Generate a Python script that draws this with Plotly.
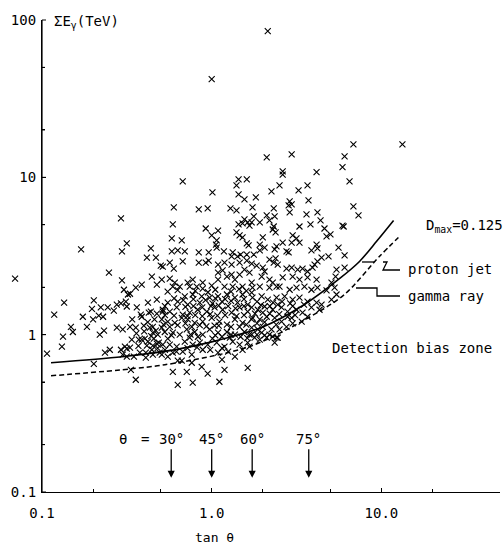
import math
import plotly.graph_objects as go

# (tan theta, sum of gamma-ray energies in TeV) for each recorded family
events = [
    (2.14, 85.1), (1.0, 42.1), (6.84, 16.2), (13.3, 16.2), (6.07, 13.6), (5.90, 11.6),
    (6.49, 9.44), (2.96, 14.0), (2.11, 13.4), (2.62, 10.9), (2.62, 10.4), (4.15, 10.8),
    (1.44, 9.71), (1.61, 9.71), (1.40, 8.89), (0.675, 9.44), (2.51, 8.89), (3.67, 8.89),
    (6.84, 6.53), (7.33, 5.73), (5.99, 4.87), (5.59, 3.58), (6.07, 3.19),
    (5.44, 2.59), (5.37, 2.34), (5.44, 1.80),
    # low-angle side
    (0.292, 5.48), (0.170, 3.48), (0.316, 3.80), (0.296, 3.38), (0.438, 3.53), (0.415, 3.09),
    (0.469, 3.09), (0.501, 2.75), (0.248, 2.48), (0.444, 2.34), (0.296, 2.21), (0.387, 2.08),
    (0.475, 2.08), (0.357, 1.99), (0.304, 1.93), (0.330, 1.82), (0.321, 1.80), (0.475, 1.67),
    (0.202, 1.65), (0.135, 1.60), (0.421, 1.60), (0.292, 1.58), (0.276, 1.55), (0.312, 1.62),
    (0.197, 1.46), (0.222, 1.49), (0.244, 1.49), (0.265, 1.42), (0.316, 1.51), (0.362, 1.49),
    (0.438, 1.40), (0.475, 1.36), (0.515, 1.40), (0.118, 1.34), (0.174, 1.30), (0.216, 1.32),
    (0.229, 1.30), (0.200, 1.25), (0.382, 1.34), (0.387, 1.30), (0.426, 1.38), (0.148, 1.12),
    (0.184, 1.12), (0.276, 1.11), (0.299, 1.08), (0.330, 1.12), (0.357, 1.11), (0.398, 1.14),
    (0.152, 1.04), (0.232, 1.06), (0.219, 1.00), (0.432, 1.11), (0.450, 1.12), (0.469, 1.06),
    (0.450, 1.03), (0.481, 1.00), (0.508, 1.11), (0.133, 0.971), (0.131, 0.839), (0.107, 0.757),
    (0.372, 0.929), (0.387, 0.929), (0.404, 0.943), (0.421, 0.902), (0.456, 0.943), (0.475, 0.877),
    (0.450, 0.851), (0.488, 0.889), (0.415, 0.851), (0.338, 0.929), (0.235, 0.768), (0.251, 0.802),
    (0.292, 0.802), (0.308, 0.839), (0.316, 0.815), (0.330, 0.827), (0.299, 0.746), (0.316, 0.724),
    (0.348, 0.724), (0.377, 0.768), (0.409, 0.768), (0.444, 0.802), (0.409, 0.714), (0.450, 0.746),
    (0.494, 0.768), (0.202, 0.653), (0.334, 0.598), (0.357, 0.517),
    (0.36, 1.02), (0.40, 1.05), (0.42, 1.20), (0.46, 1.25), (0.34, 1.25), (0.44, 0.98),
    (0.37, 0.85), (0.48, 0.82),
    # around 45 degrees, upper part
    (1.01, 8.02), (1.44, 7.80), (1.56, 7.24), (0.598, 6.44), (0.839, 6.25), (0.947, 6.35),
    (1.29, 6.35), (1.40, 6.16), (1.74, 6.44), (0.590, 5.02), (0.922, 4.73), (1.09, 4.59),
    (1.56, 5.40), (1.63, 5.17), (1.52, 5.09), (1.67, 4.94), (1.44, 5.02), (1.40, 4.47),
    (1.46, 4.27), (1.52, 4.15), (1.00, 4.27), (1.07, 3.97), (1.06, 3.74), (1.61, 3.80),
    (1.65, 3.69), (0.582, 4.09), (0.666, 3.97), (1.07, 3.58), (0.582, 3.38), (0.631, 3.43),
    (0.694, 3.38), (0.839, 3.33), (0.960, 3.33), (1.18, 3.38), (1.33, 3.33), (1.48, 3.23),
    (1.31, 3.14), (1.42, 3.14), (1.61, 3.23), (0.515, 2.71), (0.566, 2.87), (0.598, 2.63),
    (0.675, 2.92), (0.839, 2.87), (0.922, 2.87), (0.960, 2.96), (1.09, 2.79), (1.19, 2.87),
    (1.31, 2.79), (1.46, 2.87), (1.61, 2.96), (1.72, 2.83), (0.508, 2.24), (0.566, 2.27),
    (0.606, 2.14), (0.590, 2.02), (0.648, 2.02), (0.722, 2.14), (0.773, 2.24), (0.816, 2.02),
    (0.885, 2.14), (1.00, 2.05), (1.09, 2.48), (1.16, 2.56), (1.23, 2.34), (1.31, 2.41),
    (1.37, 2.24), (1.46, 2.41), (1.56, 2.59), (1.67, 2.48), (1.72, 2.14), (1.52, 2.02),
    (1.33, 2.02), (1.09, 2.24),
    # 60 degrees and beyond, upper part
    (3.25, 8.26), (2.25, 8.15), (1.82, 7.46), (2.88, 7.03), (2.96, 6.73), (2.84, 6.64),
    (3.72, 7.14), (2.32, 6.35), (2.88, 5.98), (3.62, 5.81), (4.20, 5.98), (1.77, 5.65),
    (2.11, 5.73), (2.35, 5.65), (1.72, 5.17), (1.92, 5.17), (2.19, 5.32), (2.32, 4.87),
    (2.38, 4.47), (2.29, 4.66), (3.29, 4.87), (3.82, 5.02), (4.38, 5.32), (4.62, 4.73),
    (5.01, 4.34), (4.75, 4.21), (5.90, 4.94), (3.00, 4.27), (3.16, 4.09), (3.29, 3.85),
    (2.62, 3.85), (2.96, 3.85), (2.00, 4.15), (2.41, 3.64), (2.35, 3.48), (2.76, 3.38),
    (2.84, 3.33), (1.92, 3.74), (2.05, 3.58), (1.92, 3.43), (1.77, 3.23), (4.15, 3.74),
    (4.20, 3.53), (3.87, 3.43), (4.44, 3.09), (4.88, 3.14), (2.19, 3.00), (2.38, 3.05),
    (2.32, 2.87), (2.45, 2.79), (4.04, 2.79), (3.93, 2.67), (4.20, 2.92), (6.07, 2.67),
    (1.84, 2.75), (2.00, 2.67), (2.05, 2.52), (1.97, 2.34), (2.76, 2.63), (2.96, 2.67),
    (3.21, 2.59), (3.43, 2.63), (3.67, 2.52), (2.62, 2.31), (3.00, 2.34), (3.29, 2.24),
    (3.67, 2.31), (4.15, 2.24), (5.08, 2.14), (2.19, 2.24), (2.29, 2.14), (2.41, 2.02),
    # dense core, 30 to 60 degrees
    (0.742, 2.02), (0.885, 1.96), (1.19, 2.02),
    (0.55, 1.88), (0.63, 1.92), (0.80, 1.90), (0.95, 1.86), (1.05, 1.93), (1.30, 1.88),
    (1.45, 1.95), (1.60, 1.90),
    (0.694, 1.75), (0.773, 1.80), (0.873, 1.75), (0.973, 1.72), (1.09, 1.75), (1.23, 1.80),
    (1.37, 1.72), (1.52, 1.80), (1.72, 1.85),
    (0.60, 1.70), (0.68, 1.66), (0.78, 1.68), (0.92, 1.66), (1.05, 1.70), (1.20, 1.68),
    (1.30, 1.64), (1.55, 1.68), (1.85, 1.62), (2.3, 1.60), (2.6, 1.62), (2.9, 1.58),
    (0.551, 1.60), (0.631, 1.62), (0.722, 1.55), (0.850, 1.60), (1.01, 1.58), (1.15, 1.62),
    (1.42, 1.60), (1.63, 1.55),
    (0.53, 1.52), (0.70, 1.50), (0.78, 1.52), (0.88, 1.49), (0.99, 1.52), (1.10, 1.53),
    (1.25, 1.52), (1.38, 1.47), (1.55, 1.52), (1.95, 1.54), (2.2, 1.52), (2.45, 1.55),
    (3.0, 1.52), (3.5, 1.55),
    (0.515, 1.44), (0.566, 1.40), (0.622, 1.49), (0.675, 1.34), (0.742, 1.38), (0.827, 1.44),
    (0.935, 1.40), (1.04, 1.49), (1.16, 1.44), (1.31, 1.38), (1.46, 1.49), (1.63, 1.40),
    (0.53, 1.33), (0.60, 1.32), (0.72, 1.31), (0.80, 1.33), (0.88, 1.31), (0.98, 1.35),
    (1.08, 1.32), (1.20, 1.33), (1.40, 1.31), (1.55, 1.33), (1.80, 1.36), (2.0, 1.38),
    (2.2, 1.36), (2.5, 1.35), (2.8, 1.30), (3.1, 1.33),
    (0.508, 1.25), (0.551, 1.21), (0.606, 1.19), (0.666, 1.28), (0.722, 1.25), (0.794, 1.19),
    (0.885, 1.21), (1.00, 1.28), (1.11, 1.21), (1.23, 1.16), (1.37, 1.25), (1.52, 1.19),
    (1.72, 1.25),
    (0.52, 1.16), (0.63, 1.15), (0.70, 1.18), (0.85, 1.15), (0.93, 1.13), (1.10, 1.14),
    (1.30, 1.12), (1.60, 1.16), (1.85, 1.18), (2.05, 1.20), (2.4, 1.16), (3.0, 1.18),
    (0.566, 1.12), (0.763, 1.12), (1.04, 1.14), (1.46, 1.12),
    (0.529, 1.04), (0.590, 1.03), (0.648, 1.00), (0.713, 1.08), (0.794, 1.04), (0.885, 1.00),
    (0.973, 1.08), (1.09, 1.03), (1.23, 1.04), (1.37, 1.00), (1.56, 1.04), (1.72, 1.00),
    (0.58, 0.99), (0.75, 1.00), (0.83, 0.97), (1.05, 0.99), (1.15, 0.97), (1.30, 1.00),
    (1.48, 0.97), (1.62, 0.95), (1.85, 1.00), (2.05, 0.99),
    (0.551, 0.943), (0.742, 0.957), (1.01, 0.943), (1.28, 0.957),
    (0.515, 0.864), (0.566, 0.864), (0.622, 0.839), (0.694, 0.902), (0.773, 0.864), (0.850, 0.889),
    (0.947, 0.864), (1.07, 0.889), (1.19, 0.839), (1.33, 0.902), (1.46, 0.864), (1.63, 0.889),
    (0.53, 0.80), (0.62, 0.78), (0.72, 0.82), (0.82, 0.83), (0.98, 0.80), (1.15, 0.82),
    (1.25, 0.78), (1.52, 0.80),
    (0.508, 0.746), (0.551, 0.724), (0.590, 0.768), (0.675, 0.779), (0.763, 0.746), (0.885, 0.802),
    (1.09, 0.768), (1.37, 0.724),
    (0.631, 0.683), (0.666, 0.683), (0.763, 0.663), (0.873, 0.625), (1.15, 0.693), (1.63, 0.616),
    (0.590, 0.581), (0.713, 0.581), (0.947, 0.565), (1.19, 0.598), (0.631, 0.480), (0.773, 0.495),
    (1.11, 0.502),
    # dense core, 60 to 80 degrees
    (1.74, 1.99), (1.92, 2.02), (2.19, 1.99), (2.51, 2.02), (2.88, 1.93), (3.16, 1.99),
    (3.52, 2.02), (3.87, 1.93), (4.20, 1.99), (4.75, 1.91), (5.30, 1.99),
    (1.74, 1.72), (1.97, 1.75), (2.14, 1.67), (2.41, 1.72), (2.69, 1.75), (3.00, 1.67),
    (3.29, 1.72), (3.67, 1.62), (4.15, 1.60), (4.44, 1.55), (5.08, 1.67),
    (1.72, 1.49), (1.87, 1.44), (2.05, 1.51), (2.29, 1.44), (2.58, 1.49), (2.80, 1.40),
    (3.16, 1.44), (3.43, 1.38), (3.87, 1.49), (4.32, 1.44),
    (1.74, 1.28), (1.92, 1.25), (2.11, 1.30), (2.35, 1.28), (2.58, 1.21), (2.76, 1.12),
    (2.51, 1.08), (2.96, 1.28), (3.39, 1.21), (3.67, 1.30),
    (1.72, 1.11), (1.87, 1.08), (2.00, 1.12), (2.25, 1.08), (2.19, 1.00),
    (1.67, 1.00), (1.79, 0.957), (1.97, 1.03), (2.29, 0.971), (2.45, 0.957),
    (1.92, 0.929), (2.11, 0.957), (2.35, 0.889), (2.41, 0.957), (1.67, 0.839),
]
tan_theta = [e[0] for e in events]
sum_e = [e[1] for e in events]

# one event recorded below tan(theta) = 0.1, plotted beside the axis
stray_tan = [0.0694]
stray_e = [2.27]

# detection threshold curves for D_max = 0.125
proton_tan = [0.113, 0.296, 0.6, 1.0, 2.0, 3.5, 5.66, 7.43, 9.35, 11.8]
proton_e = [0.663, 0.724, 0.80, 0.90, 1.12, 1.55, 2.27, 2.92, 3.91, 5.32]
gamma_tan = [0.113, 0.53, 1.67, 3.57, 6.06, 9.73, 12.6]
gamma_e = [0.548, 0.644, 0.84, 1.25, 1.80, 3.14, 4.15]

# zenith angle markers
theta_deg = [30, 45, 60, 75]

x_ticks = [0.1, 1, 10]
x_ticktext = ["0.1", "1.0", "10.0"]
y_ticks = [0.1, 1, 10, 100]
y_ticktext = ["0.1", "1", "10", "100"]
minor_ticks = [0.2, 0.5, 2, 5, 20, 50]

FONT = "DejaVu Sans Mono"
W, H = 504, 552
M_L, M_R, M_T, M_B = 0, 4, 20, 60
AX_LEFT = 42                      # pixel position of the y axis
PAPER_W = W - M_L - M_R
PLOT_H = H - M_T - M_B
X_MIN, X_MAX = -1.0, math.log10(50)
Y_MIN, Y_MAX = -1.0, 2.0
px_per_decade = (PAPER_W - AX_LEFT) / (X_MAX - X_MIN)
X2_MIN = X_MIN - AX_LEFT / px_per_decade
PLOT_W = PAPER_W - AX_LEFT

marker = dict(symbol="x-thin", size=6, color="black", line=dict(width=1.1, color="black"))

fig = go.Figure()
fig.add_trace(go.Scatter(x=tan_theta, y=sum_e, mode="markers", marker=marker,
                         hoverinfo="skip"))
fig.add_trace(go.Scatter(x=stray_tan, y=stray_e, mode="markers", marker=marker,
                         xaxis="x2", yaxis="y", hoverinfo="skip"))
fig.add_trace(go.Scatter(
    x=proton_tan, y=proton_e, mode="lines",
    line=dict(color="black", width=1.6, shape="spline", smoothing=0.8),
))
fig.add_trace(go.Scatter(
    x=gamma_tan, y=gamma_e, mode="lines",
    line=dict(color="black", width=1.5, dash="5px,3px", shape="spline", smoothing=0.8),
))


def paper(px, py):
    return (px - M_L) / PAPER_W, (H - M_B - py) / PLOT_H


annotations = []
label_e = 0.188
for th in theta_deg:
    t = math.tan(math.radians(th))
    annotations.append(dict(
        x=math.log10(t), y=math.log10(0.123), xref="x", yref="y",
        text="", showarrow=True, arrowhead=2, arrowsize=1.1, arrowwidth=1.3,
        arrowcolor="black", ax=0, ay=-30,
    ))
    annotations.append(dict(
        x=math.log10(t), y=math.log10(label_e), xref="x", yref="y",
        text=f"{th}°", showarrow=False, xanchor="center", yanchor="bottom",
        font=dict(family=FONT, size=14, color="black"),
    ))
for txt, px in [("θ", 123), ("=", 145)]:
    xp, _ = paper(px, 0)
    annotations.append(dict(
        x=xp, y=math.log10(label_e), xref="paper", yref="y", text=txt,
        showarrow=False, xanchor="center", yanchor="bottom",
        font=dict(family=FONT, size=14, color="black"),
    ))

for txt, (px, py), size in [
    ("D<sub>max</sub>=0.125", (424, 226), 14),
    ("proton jet", (406, 269), 14),
    ("gamma ray", (406, 296), 14),
    ("Detection bias zone", (330, 348), 14),
    ("ΣE<sub>γ</sub>(TeV)", (52, 22), 14),
]:
    xp, yp = paper(px, py)
    annotations.append(dict(
        x=xp, y=yp, xref="paper", yref="paper", text=txt, showarrow=False,
        xanchor="left", yanchor="middle",
        font=dict(family=FONT, size=size, color="black"),
    ))
xp, yp = paper(214, 537)
annotations.append(dict(
    x=xp, y=yp, xref="paper", yref="paper", text="tan θ", showarrow=False,
    xanchor="center", yanchor="middle",
    font=dict(family=FONT, size=13, color="black"),
))

# leader lines from the curves to their labels
shapes = []
for pts in [
    [(362, 262), (374, 262)],
    [(383, 262), (387, 262), (383, 270), (400, 270)],
    [(356, 288), (377, 288), (377, 296), (400, 296)],
]:
    path = " ".join(
        ("M" if i == 0 else "L") + " {:.4f} {:.4f}".format(*paper(px, py))
        for i, (px, py) in enumerate(pts)
    )
    shapes.append(dict(type="path", path=path, xref="paper", yref="paper",
                       line=dict(color="black", width=1.3)))

# vertical axis line and its inward ticks along the left edge of the plotting area
shapes.append(dict(type="line", xref="x domain", yref="y domain",
                   x0=0, x1=0, y0=0, y1=1, line=dict(color="black", width=1.2)))
for v, tick_len in [(v, 4) for v in y_ticks] + [(v, 3) for v in minor_ticks]:
    frac = (math.log10(v) - Y_MIN) / (Y_MAX - Y_MIN)
    shapes.append(dict(type="line", xref="x domain", yref="y domain",
                       x0=0, x1=tick_len / PLOT_W, y0=frac, y1=frac,
                       line=dict(color="black", width=1)))

axis_common = dict(
    type="log", showgrid=False, zeroline=False, showline=True, automargin=False,
    linecolor="black", linewidth=1.2, ticks="inside", ticklen=4,
    tickwidth=1, tickcolor="black", mirror=False,
    tickfont=dict(family=FONT, size=14, color="black"),
    minor=dict(tickvals=minor_ticks, ticks="inside", ticklen=3,
               tickwidth=1, tickcolor="black"),
)

fig.update_layout(
    width=W, height=H,
    margin=dict(l=M_L, r=M_R, t=M_T, b=M_B),
    paper_bgcolor="white", plot_bgcolor="rgba(0,0,0,0)",
    showlegend=False,
    xaxis=dict(axis_common, domain=[AX_LEFT / PAPER_W, 1], range=[X_MIN, X_MAX],
               anchor="y", tickvals=x_ticks, ticktext=x_ticktext, ticklabelstandoff=8),
    xaxis2=dict(type="log", domain=[0, 1], range=[X2_MIN, X_MAX], anchor="y",
                visible=False, showgrid=False, zeroline=False, automargin=False),
    yaxis=dict(axis_common, range=[Y_MIN, Y_MAX], anchor="x", tickvals=y_ticks,
               ticktext=y_ticktext, ticklabelstandoff=2),
    annotations=annotations,
    shapes=shapes,
)

fig.write_html("out.html")
